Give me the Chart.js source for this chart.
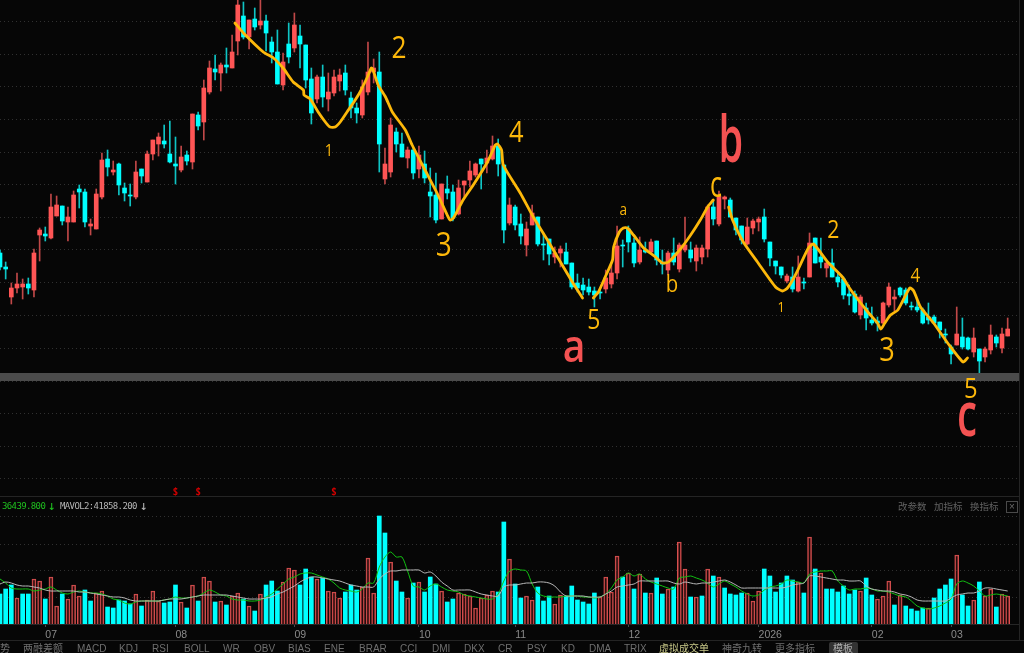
<!DOCTYPE html>
<html>
<head>
<meta charset="utf-8">
<style>
  html, body { margin: 0; background: #060606; overflow: hidden; width: 1024px; height: 653px; }
  #wrap { position: relative; width: 1024px; height: 653px; }
  canvas { position: absolute; left: 0; top: 0; }
  .rule { position: absolute; left: 0; width: 1019px; height: 1px; background: #242424; }
  .txt { position: absolute; white-space: nowrap; }
  .legend { top: 500px; font: 9px/12px "DejaVu Sans Mono", monospace; letter-spacing: -0.62px; }
  .tool { top: 500px; font: 9.5px/12px "Noto Sans CJK SC", sans-serif; color: #626262; }
  .tab { top: 642px; font: 10px/13px "Liberation Sans", "Noto Sans CJK SC", sans-serif; color: #6f6f6f; }
  #close { position: absolute; left: 1006px; top: 501px; width: 10px; height: 10px; border: 1px solid #4a4a4a; color: #6a6a6a;
           font: 10px/10px "Liberation Sans", sans-serif; text-align: center; }
  #tplBg { position: absolute; left: 829px; top: 642px; width: 29px; height: 11px; background: #333; border-radius: 2px 2px 0 0; }
</style>
</head>
<body>
<div id="wrap">
  <canvas id="chart" width="1024" height="653"></canvas>
  <div class="rule" style="top:496px"></div>
  <div class="rule" style="top:640px; width:1024px"></div>
  <div class="rule" style="top:0; left:1019px; width:1px; height:640px"></div>
  <div class="txt legend" style="left:2px; color:#1fbf1f">36439.800</div>
  <div class="txt legend" style="left:48px; color:#1fbf1f; font-size:13px">↓</div>
  <div class="txt legend" style="left:60px; color:#b5b5b5">MAVOL2:41858.200</div>
  <div class="txt legend" style="left:140px; color:#b5b5b5; font-size:13px">↓</div>
  <div class="txt tool" style="left:898px">改参数</div>
  <div class="txt tool" style="left:934px">加指标</div>
  <div class="txt tool" style="left:970px">换指标</div>
  <div id="close">×</div>
  <div id="tplBg"></div>
  <div id="tabs"></div>
</div>
<script src="https://cdn.jsdelivr.net/npm/chart.js@4"></script>
<script>
// values, price in chart points (no axis labels shown)
const highs = [150,138,117,127,121,122,151,172,173,206,204,194,193,209,215,211,181,211,247,250,
  239,237,217,216,239,231,249,260,267,275,279,263,254,249,286,288,320,339,345,337,
  352,365,400,398,380,392,400,385,363,370,347,377,387,375,355,332,325,335,327,330,
  331,335,308,297,320,358,341,348,252,282,272,267,253,252,254,249,232,227,216,224,
  215,220,219,239,237,241,250,264,261,235,202,195,186,178,195,183,167,161,153,154,
  157,137,126,122,121,113,112,130,135,174,160,174,162,163,158,161,159,150,149,162,
  157,183,158,155,155,195,200,209,204,202,182,174,182,181,183,191,158,139,133,126,
  133,144,122,167,162,162,138,151,127,123,115,109,105,97,93,83,98,117,110,113,
  112,98,100,92,97,85,78,71,55,93,82,63,72,51,53,75,65,72,82];
const opens = [147,133,103,112,113,116,110,165,166,162,184,194,178,178,211,208,174,171,203,241,
  228,236,212,205,203,231,218,246,256,259,246,236,230,245,238,285,278,308,331,327,
  335,332,359,384,363,381,375,379,358,348,315,356,352,364,355,321,301,323,301,307,
  319,327,302,292,285,308,328,328,221,228,268,256,242,250,231,236,208,205,181,211,
  208,186,215,220,225,241,237,241,254,235,177,193,176,155,175,183,156,161,143,147,
  148,137,117,115,113,109,108,111,116,127,155,171,157,138,150,148,159,138,130,147,
  131,150,150,139,143,151,193,176,201,200,182,174,156,172,178,183,158,139,133,119,
  123,109,118,123,162,143,132,137,123,121,106,106,85,92,80,79,77,95,101,112,
  110,94,93,90,83,83,78,66,53,55,63,62,48,51,43,50,63,52,64];
const closes = [133,131,112,116,116,112,147,170,164,193,195,179,183,205,208,178,176,206,240,233,
  230,215,207,204,228,224,246,260,263,256,238,234,243,239,286,274,312,332,328,335,
  333,348,395,363,380,373,379,367,348,316,338,343,375,356,320,287,323,303,308,323,
  325,310,292,287,313,328,332,256,236,275,256,243,250,227,245,222,204,180,216,207,
  182,212,219,229,236,236,242,254,236,170,195,175,164,171,187,156,155,146,147,151,
  136,113,112,110,108,105,107,122,127,154,154,158,137,150,148,158,140,136,147,138,
  155,155,142,152,152,193,181,204,203,183,170,160,173,179,181,161,142,134,125,124,
  111,123,117,157,137,138,137,123,118,105,104,88,103,82,77,77,97,113,103,105,
  97,93,90,77,80,77,70,65,46,66,53,51,62,39,51,65,57,66,71];
const lows = [130,121,96,107,101,106,103,139,159,161,184,175,159,178,192,173,165,171,201,224,
  225,205,199,194,201,217,218,240,244,252,237,216,228,235,231,270,260,306,320,309,
  327,332,345,361,351,370,371,349,337,316,310,337,348,332,312,276,297,293,289,304,
  309,305,282,277,282,305,317,228,216,223,248,243,232,221,222,217,183,177,181,201,
  179,185,203,213,223,211,227,240,224,157,175,170,156,144,175,154,140,135,137,133,
  136,111,108,105,105,93,101,107,112,121,133,148,133,136,147,146,135,126,125,135,
  128,148,138,129,136,143,175,174,191,183,165,156,155,166,169,158,134,126,122,117,
  108,108,111,123,137,132,123,123,113,101,95,87,81,70,75,69,76,93,89,103,
  95,90,88,76,76,76,62,57,36,55,51,50,43,27,38,46,53,47,64];

// volume in chart units, with direction (r up / c down), moving averages below
const volumes = [30,35,39,26,30,30,45,43,25,47,18,30,25,39,28,34,23,31,33,17,
  16,24,23,20,30,18,24,33,23,21,22,39,22,16,39,23,47,43,22,23,
  19,28,31,25,18,13,30,39,43,33,42,56,54,39,55,47,45,46,33,32,
  26,32,39,34,37,66,31,108,91,62,43,32,26,41,42,32,47,40,33,22,
  25,31,30,28,16,26,29,33,32,102,65,40,26,28,24,37,23,28,20,29,
  28,38,24,22,20,31,27,47,32,68,47,51,35,50,31,31,46,30,35,37,
  82,55,27,27,28,55,48,47,36,30,29,31,31,23,33,55,48,32,41,48,
  44,42,31,87,55,51,35,35,32,38,30,34,33,46,29,25,28,43,19,29,
  18,15,13,16,16,26,35,39,45,69,29,18,24,42,28,35,17,30,28];
const volDirs = ("cccrccrrcr" + "rcrrrccrrc" + "ccccrcrrrc" + "ccrcrcrrcr" + "crrcrcrccc" + "rrrcccrcrr"
  + "rcccrrrccr" + "ccrcrcccrc" + "crrrrrrrcc" + "rccrrcccrr" + "ccccccrrrr" + "crcrcrccrc"
  + "rrcrcrcrcc" + "ccrrrccccc" + "crcrcrcccc" + "ccrccrrrcr" + "ccccrccccr" + "ccrcrrcrr").split("");
const mavol1 = [45,41,36,35,35,35,33,34,35,37,34,31,30,32,33,32,31,31,30,28,
  25,24,21,20,22,23,23,23,23,24,25,27,26,26,27,28,31,34,32,29,
  28,25,24,24,23,23,24,27,30,35,40,45,47,50,51,51,49,47,45,41,
  36,34,33,32,35,41,41,57,67,72,67,67,53,38,37,34,38,40,37,34,
  33,32,29,28,27,26,25,25,30,43,53,55,54,53,40,31,28,27,27,27,
  28,28,28,27,27,26,27,30,36,44,47,51,48,50,45,42,40,38,36,35,
  46,47,48,46,44,41,37,40,43,40,37,33,30,28,29,34,37,38,40,44,
  43,42,41,50,52,53,53,53,43,38,34,35,35,36,35,33,33,32,30,28,
  27,23,18,16,15,16,18,21,25,40,43,41,38,33,28,29,30,29,28];
const mavol2 = [40,42,41,39,38,38,37,36,34,33,33,33,33,33,32,32,31,30,29,28,
  27,27,26,24,23,23,23,23,23,24,25,25,25,26,27,28,29,29,29,29,
  29,28,27,26,25,25,25,26,27,30,32,35,38,42,45,47,47,46,45,44,
  43,41,39,38,37,37,37,45,50,53,53,54,54,54,54,51,52,48,42,38,
  34,34,34,34,32,30,29,28,28,37,39,39,40,41,41,42,42,41,38,32,
  28,28,28,28,27,27,27,30,33,37,38,39,40,43,43,43,43,43,43,41,
  40,42,41,40,41,41,42,43,44,42,39,36,36,36,36,36,36,36,36,37,
  39,40,41,48,48,47,46,45,44,44,43,43,43,38,35,34,33,33,32,30,
  29,27,24,23,23,23,23,23,26,29,30,31,31,33,36,36,35,34,33];

// axis
const gridPrice = [378.3,345.7,313,280.7,248,215.7,182.7,150.3,117.7,85,51.7,19,-13.3,-46,-78.6];
const gridVolume = [27,53.5,80,107.5];
const monthIdx = [8,31,52,74,91,111,134,154,168];
const monthText = ["07","08","09","10","11","12","2026","02","03"];
const bandPrice = [27,19];

// hand drawn wave strokes, [candle index, price]
const strokeA = [[41.5,377],[43,367],[46.5,348],[48.3,342],[50,332],[51.8,318],[53.6,310],[53.7,305],[54.8,301],[56.2,288],
  [57.6,277],[58.3,273],[59.2,273],[60.1,278],[61.3,288],[62.4,297],[63.6,308],[64.9,323],[65.6,332],[65.9,330],
  [66.8,315],[68.1,303],[69.3,288],[71.6,270],[72.8,255],[74.8,233],[77.2,207],[79,185],[79.5,180],[80.1,182],
  [81.8,200],[83.6,215],[86.1,238],[87.5,255],[87.9,256],[88.6,250],[88.9,235],[91.9,207],[94.2,183],[96.7,160],
  [99,138],[101.1,118],[102.9,102]];
const strokeB = [[104.8,102],[105.7,108],[106.9,123],[108.2,140],[108.4,153],[109.4,168],[110.1,172],[110.8,172],[111.9,165],
  [113.7,152],[115.8,143],[117,137],[118.1,138],[120.2,151],[122,165],[123.7,180],[125,193],[126,200]];
const strokeC = [[128.7,193],[129.4,180],[131.3,158],[133.8,138],[137,113],[138.2,109],[139.1,112],[140.5,125],[142.8,152],
  [143.7,156],[146.2,138],[148.8,123],[150.3,110],[153.3,88],[155,77],[155.6,71],[156.3,77],[157.3,85],[158.6,90],
  [160.7,112],[161.4,109],[162.6,93],[164.9,77],[167.4,57],[170.1,38],[170.9,42]];

const YELLOW = "#fdb80a";
const RED    = "#f45252";
const CYAN   = "#00ffff";
const DOWNWICK = "#0fc4c4";
const UPWICK   = "#c04848";
const UP       = "#ff5555";

const handMarks = [
  { t: "1", i: 58.1,  p: 244, size: 17, color: YELLOW },
  { t: "2", i: 70.5,  p: 342, size: 31, color: YELLOW },
  { t: "3", i: 78.4,  p: 144, size: 33, color: YELLOW },
  { t: "4", i: 91.2,  p: 258, size: 30, color: YELLOW },
  { t: "5", i: 104.9, p: 71,  size: 27, color: YELLOW },
  { t: "a", i: 110.1, p: 185, size: 16, color: YELLOW },
  { t: "b", i: 118.7, p: 108, size: 24, color: YELLOW },
  { t: "c", i: 126.5, p: 203, size: 36, color: YELLOW, sx: 0.7 },
  { t: "1", i: 138,   p: 88,  size: 15, color: YELLOW },
  { t: "2", i: 147.2, p: 162, size: 25, color: YELLOW },
  { t: "3", i: 156.7, p: 39,  size: 32, color: YELLOW },
  { t: "4", i: 161.7, p: 118, size: 20, color: YELLOW },
  { t: "5", i: 171.5, p: 2,   size: 28, color: YELLOW },
  { t: "a", i: 101.4, p: 38,  size: 46, color: RED, weight: 600 },
  { t: "b", i: 129.1, p: 238, size: 66, color: RED, weight: 600, sx: 0.6 },
  { t: "c", i: 170.8, p: -36, size: 62, color: RED, weight: 600, sx: 0.65 },
  { t: "$", i: 31,    p: -95, size: 10, color: "#d00000", weight: 700 },
  { t: "$", i: 35,    p: -95, size: 10, color: "#d00000", weight: 700 },
  { t: "$", i: 59,    p: -95, size: 10, color: "#d00000", weight: 700 }
];

const tabNames = ["势","两融差额","MACD","KDJ","RSI","BOLL","WR","OBV","BIAS","ENE","BRAR","CCI","DMI","DKX","CR","PSY","KD","DMA","TRIX",
  "虚拟成交单","神奇九转","更多指标","模板"];
const tabLeft = [0,23,77,119,152,184,223,254,288,324,359,400,432,464,498,527,561,589,624,659,722,775,833];

const tabs = document.getElementById("tabs");
tabNames.forEach((name, k) => {
  const el = document.createElement("div");
  el.className = "txt tab";
  el.style.left = tabLeft[k] + "px";
  if (name === "虚拟成交单") el.style.color = "#c9c98a";
  if (name === "模板") el.style.color = "#b0b0b0";
  el.textContent = name;
  tabs.appendChild(el);
});

const categories = Array.from({ length: 181 }, (_, i) => i);
const isUp = i => closes[i] >= opens[i];

function strokeDataset(points) {
  return {
    type: "line",
    xAxisID: "xh",
    yAxisID: "y",
    data: points.map(([x, y]) => ({ x, y })),
    borderColor: YELLOW,
    borderWidth: 2.8,
    borderCapStyle: "round",
    borderJoinStyle: "round",
    pointRadius: 0,
    tension: 0.2,
    order: 1
  };
}

function maDataset(values, color) {
  return {
    type: "line",
    yAxisID: "v",
    data: values,
    borderColor: color,
    borderWidth: 1,
    pointRadius: 0,
    tension: 0.3,
    order: 2
  };
}

// band and hand written marks on top of the candles
const overlay = {
  id: "overlay",
  afterDatasetsDraw(c) {
    const { ctx, chartArea, scales } = c;
    const top = scales.y.getPixelForValue(bandPrice[0]);
    const bot = scales.y.getPixelForValue(bandPrice[1]);
    ctx.save();
    ctx.fillStyle = "#4b4b4b";
    ctx.fillRect(chartArea.left, top, chartArea.right - chartArea.left, bot - top);
    ctx.textAlign = "center";
    ctx.textBaseline = "alphabetic";
    handMarks.forEach(m => {
      ctx.save();
      ctx.translate(scales.xh.getPixelForValue(m.i), scales.y.getPixelForValue(m.p));
      ctx.scale(m.sx || 0.85, 1);
      ctx.font = `${m.weight || 400} ${m.size}px "Open Sans", sans-serif`;
      ctx.fillStyle = m.color;
      ctx.fillText(m.t, 0, 0);
      ctx.restore();
    });
    ctx.restore();
  }
};

new Chart(document.getElementById("chart"), {
  type: "bar",
  data: {
    labels: categories,
    datasets: [
      {
        label: "wick",
        yAxisID: "y",
        data: highs.map((h, i) => [lows[i], h]),
        backgroundColor: highs.map((_, i) => isUp(i) ? UPWICK : DOWNWICK),
        barThickness: 1,
        order: 6
      },
      {
        label: "body",
        yAxisID: "y",
        data: opens.map((o, i) => [o, closes[i]]),
        backgroundColor: opens.map((_, i) => isUp(i) ? UP : CYAN),
        barThickness: 4,
        order: 5
      },
      {
        label: "VOL",
        yAxisID: "v",
        data: volumes,
        backgroundColor: volDirs.map(d => d === "r" ? "rgba(80,20,20,0.35)" : CYAN),
        borderColor: volDirs.map(d => d === "r" ? "#d85050" : CYAN),
        borderWidth: volDirs.map(d => d === "r" ? 1 : 0),
        barThickness: 4,
        order: 4
      },
      maDataset(mavol2, "#b8b8b8"),
      maDataset(mavol1, "#12c212"),
      strokeDataset(strokeA),
      strokeDataset(strokeB),
      strokeDataset(strokeC)
    ]
  },
  options: {
    responsive: false,
    animation: false,
    devicePixelRatio: 1,
    layout: { padding: { left: 0, right: 5, top: 0, bottom: 0 } },
    datasets: { bar: { grouped: false } },
    plugins: { legend: { display: false }, tooltip: { enabled: false } },
    scales: {
      x: {
        type: "category",
        offset: false,
        afterBuildTicks: a => { a.ticks = monthIdx.map(v => ({ value: v })); },
        afterFit: a => { a.height = 653 - 624; },
        grid: { offset: false, drawOnChartArea: false, tickLength: 3, tickColor: "#4a4a4a" },
        border: { color: "#262626" },
        ticks: {
          autoSkip: false,
          maxRotation: 0,
          align: "start",
          padding: 2,
          color: "#8a8a8a",
          font: { family: "Liberation Sans", size: 10.5 },
          callback: v => monthText[monthIdx.indexOf(v)] ?? ""
        }
      },
      xh: { type: "linear", display: false, offset: false, min: 0, max: 180 },
      y: {
        type: "linear",
        min: -224,
        max: 400,
        afterBuildTicks: a => { a.ticks = gridPrice.map(v => ({ value: v })); },
        afterFit: a => { a.width = 0; },
        grid: { color: "#303030", lineWidth: 1, drawTicks: false },
        border: { display: false, dash: [1, 3] },
        ticks: { display: false }
      },
      v: {
        type: "linear",
        min: 0,
        max: 624,
        afterBuildTicks: a => { a.ticks = gridVolume.map(v => ({ value: v })); },
        afterFit: a => { a.width = 0; },
        grid: { color: "#303030", lineWidth: 1, drawTicks: false },
        border: { display: false, dash: [1, 3] },
        ticks: { display: false }
      }
    }
  },
  plugins: [overlay]
});
</script>
</body>
</html>
